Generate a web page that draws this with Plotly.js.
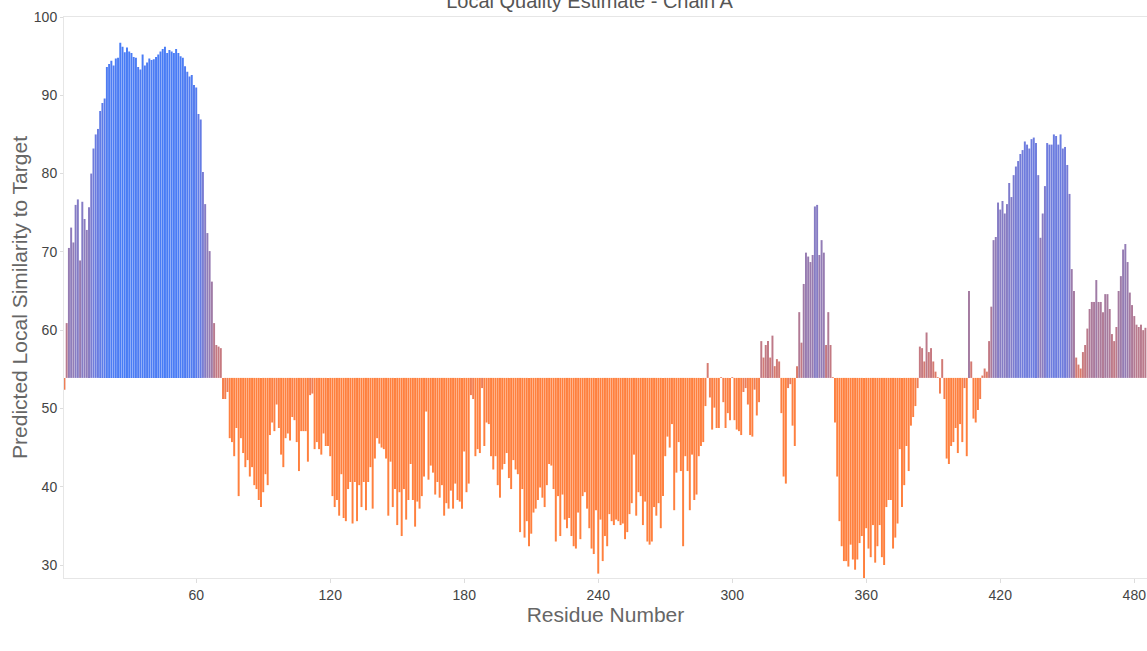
<!DOCTYPE html>
<html>
<head>
<meta charset="utf-8">
<script src="https://cdn.plot.ly/plotly-3.0.1.min.js"></script>
<style>
  html, body { margin: 0; padding: 0; background: #ffffff; }
  #chart { width: 1147px; height: 651px; }
</style>
</head>
<body>
<div id="chart"></div>
<script>
// Predicted local similarity per residue (chain A), residues 1..485
const localScores = [
  52.4, 60.9, 70.5, 73.1, 71.2, 76.0, 76.7, 68.9, 76.4, 74.2,   // 1-10
  72.8, 75.7, 80.0, 83.2, 85.0, 85.7, 88.0, 89.0, 89.6, 93.6,   // 11-20
  94.0, 94.4, 93.8, 94.7, 94.8, 96.7, 96.2, 95.5, 96.1, 95.6,   // 21-30
  95.4, 94.9, 94.8, 93.6, 93.3, 95.2, 93.8, 94.2, 94.7, 94.5,   // 31-40
  94.6, 94.9, 95.2, 95.6, 95.9, 96.2, 95.4, 95.8, 95.6, 95.4,   // 41-50
  95.9, 95.4, 95.0, 94.8, 93.7, 93.0, 92.4, 92.6, 91.3, 91.0,   // 51-60
  87.6, 86.9, 80.2, 76.1, 72.4, 70.1, 66.2, 60.9, 58.1, 57.9,   // 61-70
  57.7, 51.2, 51.2, 52.1, 46.2, 45.7, 43.9, 47.5, 38.8, 46.2,   // 71-80
  44.3, 42.5, 43.4, 41.3, 42.5, 40.2, 39.7, 38.3, 37.4, 39.3,   // 81-90
  41.6, 40.2, 46.6, 48.2, 47.1, 50.5, 47.5, 44.1, 42.5, 46.2,   // 91-100
  46.8, 45.9, 48.9, 48.5, 45.7, 42.0, 47.1, 47.1, 47.1, 43.2,   // 101-110
  51.7, 51.9, 44.8, 45.7, 44.8, 44.1, 46.8, 45.2, 45.2, 43.9,   // 111-120
  38.8, 37.4, 38.3, 36.3, 41.6, 36.0, 35.6, 39.7, 40.6, 35.3,   // 121-130
  40.6, 35.6, 40.2, 37.4, 40.6, 37.0, 40.6, 42.5, 37.2, 43.6,   // 131-140
  46.2, 45.5, 45.0, 44.8, 43.6, 36.3, 43.2, 37.4, 39.7, 35.1,   // 141-150
  39.3, 33.7, 39.7, 35.8, 38.3, 42.9, 38.3, 34.9, 38.1, 37.2,   // 151-160
  38.8, 41.3, 49.6, 40.9, 42.7, 41.8, 39.0, 40.6, 38.6, 40.2,   // 161-170
  36.3, 37.9, 37.2, 39.5, 37.2, 40.4, 38.3, 38.1, 37.2, 44.5,   // 171-180
  39.3, 40.4, 51.7, 51.2, 43.9, 44.8, 44.3, 52.6, 45.2, 48.2,   // 181-190
  48.0, 43.9, 42.2, 43.9, 40.2, 38.6, 42.2, 42.9, 44.3, 41.1,   // 191-200
  39.7, 43.4, 42.2, 41.6, 34.2, 39.7, 33.5, 35.6, 32.4, 34.0,   // 201-210
  36.7, 37.2, 38.3, 39.9, 38.6, 37.4, 40.2, 42.9, 42.7, 39.7,   // 211-220
  33.0, 38.8, 33.7, 39.0, 35.8, 34.7, 36.0, 33.7, 32.4, 32.1,   // 221-230
  36.7, 33.3, 38.8, 39.3, 37.2, 34.7, 32.1, 31.4, 37.0, 28.9,   // 231-240
  35.8, 30.5, 33.7, 32.4, 36.5, 35.6, 35.1, 35.8, 35.6, 35.1,   // 241-250
  35.3, 33.3, 34.2, 36.5, 37.9, 44.1, 36.3, 39.3, 38.8, 35.1,   // 251-260
  38.1, 33.0, 32.6, 33.0, 37.4, 36.3, 37.9, 34.7, 38.8, 43.9,   // 261-270
  46.4, 45.0, 48.0, 37.0, 41.8, 45.7, 42.0, 32.4, 43.9, 42.0,   // 271-280
  37.0, 44.1, 38.3, 39.0, 43.9, 45.2, 45.7, 50.3, 55.8, 51.4,   // 281-290
  47.3, 50.1, 47.5, 47.5, 54.0, 50.8, 47.5, 49.4, 48.5, 54.0,   // 291-300
  48.5, 47.3, 47.1, 46.6, 52.1, 52.6, 50.5, 46.6, 46.4, 52.4,   // 301-310
  49.1, 50.8, 58.6, 56.5, 58.1, 58.6, 56.5, 59.3, 55.4, 56.3,   // 311-320
  56.0, 49.4, 41.3, 40.4, 52.6, 53.1, 47.8, 45.2, 55.4, 62.3,   // 321-330
  58.4, 65.9, 69.9, 69.4, 68.7, 69.6, 75.8, 76.0, 69.6, 71.5,   // 331-340
  69.9, 58.1, 62.3, 58.1, 54.0, 48.2, 41.3, 35.6, 32.4, 30.5,   // 341-350
  30.5, 29.8, 32.6, 30.7, 29.4, 30.7, 32.8, 33.7, 28.2, 34.7,   // 351-360
  32.1, 31.0, 35.1, 30.3, 32.4, 35.1, 31.0, 30.0, 37.4, 38.3,   // 361-370
  38.3, 32.1, 33.5, 35.3, 44.8, 37.4, 40.2, 45.2, 42.0, 47.8,   // 371-380
  48.9, 50.3, 52.6, 57.9, 57.7, 56.0, 59.7, 57.2, 57.7, 56.0,   // 381-390
  54.7, 54.0, 51.9, 56.3, 51.2, 43.6, 42.9, 45.2, 45.7, 47.5,   // 391-400
  44.3, 48.0, 45.7, 52.6, 43.9, 65.0, 56.0, 48.7, 48.2, 49.8,   // 401-410
  51.2, 54.2, 55.1, 54.7, 58.6, 63.0, 71.5, 71.9, 76.3, 75.4,   // 411-420
  76.5, 74.9, 76.1, 78.8, 77.0, 79.8, 80.9, 81.6, 82.5, 83.0,   // 421-430
  84.1, 83.7, 83.2, 84.4, 84.6, 83.9, 79.8, 71.8, 74.9, 78.4,   // 431-440
  83.9, 83.7, 83.7, 85.0, 84.8, 83.7, 85.0, 83.2, 83.4, 81.1,   // 441-450
  77.4, 67.8, 65.0, 56.5, 55.6, 55.1, 57.2, 58.1, 60.2, 62.7,   // 451-460
  63.6, 63.6, 66.4, 63.6, 63.6, 62.3, 64.6, 64.6, 62.7, 59.5,   // 461-470
  58.6, 60.4, 65.0, 66.9, 70.3, 71.0, 68.7, 64.8, 63.2, 61.8,   // 471-480
  60.7, 60.4, 60.7, 60.0, 60.3                                  // 481-485
];

// Residue numbering starts at 1
const residueNumbers = localScores.map((_, i) => i + 1);

// Bars hang from this reference score: above it they rise, below it they drop
const referenceScore = 53.9;

// Tick labels on the residue axis
const residueTicks = [60, 120, 180, 240, 300, 360, 420, 480];

// Orange (poor) through mauve to blue (good)
const qualityColors = [
  [0.000, 'rgb(255,128,62)'],
  [0.115, 'rgb(252,128,68)'],
  [0.192, 'rgb(228,124,98)'],
  [0.269, 'rgb(196,121,130)'],
  [0.423, 'rgb(160,123,165)'],
  [0.615, 'rgb(134,124,196)'],
  [0.769, 'rgb(110,124,222)'],
  [0.923, 'rgb(82,124,240)'],
  [1.000, 'rgb(72,124,246)']
];

const bars = {
  type: 'bar',
  x: residueNumbers,
  y: localScores.map(v => v - referenceScore),
  base: referenceScore,
  customdata: localScores,
  marker: {
    color: localScores,
    colorscale: qualityColors,
    cmin: 44,
    cmax: 96,
    showscale: false,
    line: { width: 0 }
  },
  hovertemplate: 'Residue %{x}<br>Score %{customdata}<extra></extra>'
};

const fontFamily = 'Liberation Sans, Arial, Helvetica, sans-serif';
const axisFont = { family: fontFamily, size: 14, color: '#444' };
const titleFont = { family: fontFamily, size: 21, color: '#666' };

const layout = {
  width: 1147,
  height: 651,
  margin: { l: 64, r: 0, t: 17, b: 73, pad: 0 },
  paper_bgcolor: '#ffffff',
  plot_bgcolor: '#ffffff',
  showlegend: false,
  bargap: 0.12,
  font: { family: fontFamily, color: '#444' },
  title: {
    text: 'Local Quality Estimate - Chain A',
    font: { family: fontFamily, size: 20, color: '#555' },
    xref: 'container', yref: 'container',
    x: 0.514, xanchor: 'center',
    y: 0.999, yanchor: 'middle'
  },
  xaxis: {
    range: [0.8, 485.7],
    tickmode: 'array',
    tickvals: residueTicks,
    ticktext: residueTicks.map(String),
    ticks: 'outside', ticklen: 4, tickcolor: '#dddddd',
    tickfont: axisFont,
    showgrid: false, zeroline: false,
    showline: true, linecolor: '#e6e6e6', linewidth: 1, mirror: true,
    title: { text: 'Residue Number', font: titleFont, standoff: 4 }
  },
  yaxis: {
    range: [28.34, 100],
    tick0: 30, dtick: 10,
    ticks: 'outside', ticklen: 3, tickcolor: '#dddddd',
    tickfont: axisFont,
    showgrid: false, zeroline: false,
    showline: true, linecolor: '#e6e6e6', linewidth: 1, mirror: true,
    title: { text: 'Predicted Local Similarity to Target', font: titleFont, standoff: 0 }
  }
};

Plotly.newPlot('chart', [bars], layout, { displayModeBar: false, staticPlot: true });
</script>
</body>
</html>
